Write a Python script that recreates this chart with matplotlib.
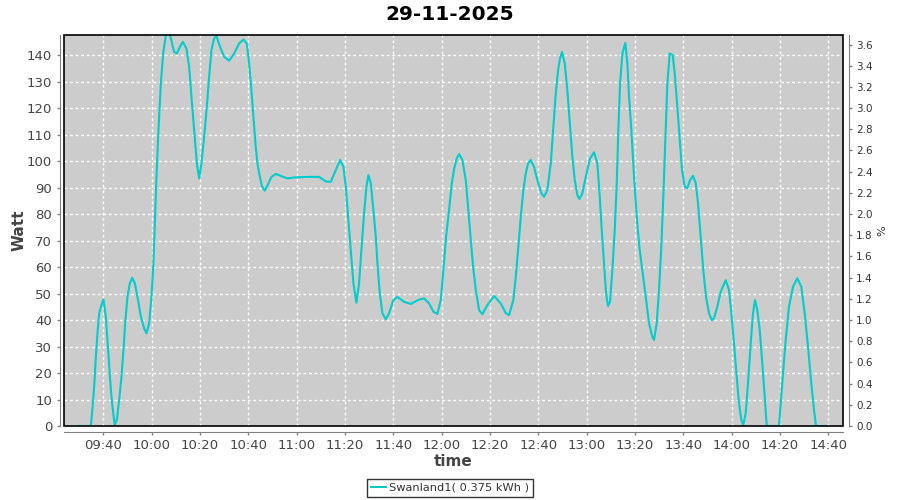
import matplotlib
matplotlib.use("Agg")
import matplotlib.pyplot as plt
import matplotlib.dates as mdates
from matplotlib.patches import Rectangle
import pandas as pd

# waarden
times = [
    "09:29:25", "09:34:47", "09:35:27", "09:36:09", "09:36:51", "09:37:31", "09:38:13", "09:39:10",
    "09:40:00", "09:40:59", "09:41:39", "09:42:21", "09:43:04", "09:43:43", "09:44:38", "09:45:33",
    "09:46:30", "09:47:27", "09:48:17", "09:48:59", "09:49:56", "09:50:55", "09:51:53", "09:53:00",
    "09:54:04", "09:55:29", "09:56:50", "09:57:48", "09:58:55", "09:59:52", "10:00:41", "10:01:16",
    "10:01:56", "10:02:46", "10:03:45", "10:04:42", "10:05:49", "10:06:40", "10:07:36", "10:09:15",
    "10:10:22", "10:11:37", "10:12:51", "10:14:20", "10:15:28", "10:16:25", "10:17:32", "10:18:39",
    "10:19:36", "10:20:33", "10:21:40", "10:22:47", "10:23:44", "10:24:41", "10:25:49", "10:26:46",
    "10:28:17", "10:29:57", "10:32:01", "10:34:05", "10:36:09", "10:37:56", "10:39:20", "10:40:17",
    "10:41:14", "10:42:04", "10:42:54", "10:43:43", "10:44:43", "10:45:40", "10:46:47", "10:48:09",
    "10:49:31", "10:51:20", "10:53:25", "10:56:08", "10:58:55", "11:04:25", "11:09:15", "11:12:09",
    "11:14:06", "11:16:10", "11:17:57", "11:19:19", "11:20:18", "11:21:15", "11:22:22", "11:23:27",
    "11:24:41", "11:25:48", "11:26:45", "11:27:52", "11:28:50", "11:29:39", "11:30:39", "11:31:43",
    "11:32:43", "11:33:23", "11:34:22", "11:35:27", "11:36:51", "11:38:13", "11:39:52", "11:41:39",
    "11:44:26", "11:47:12", "11:50:13", "11:52:42", "11:54:46", "11:56:33", "11:58:12", "11:59:37",
    "12:00:41", "12:01:48", "12:03:03", "12:04:10", "12:05:07", "12:06:14", "12:07:11", "12:08:33",
    "12:09:57", "12:10:54", "12:12:02", "12:12:59", "12:14:06", "12:15:28", "12:16:50", "12:18:54",
    "12:21:40", "12:24:26", "12:26:31", "12:27:53", "12:29:39", "12:30:39", "12:31:43", "12:32:43",
    "12:33:47", "12:34:47", "12:35:44", "12:36:51", "12:38:13", "12:39:35", "12:41:14", "12:42:21",
    "12:43:43", "12:45:08", "12:46:12", "12:47:12", "12:48:09", "12:48:58", "12:49:48", "12:50:55",
    "12:51:59", "12:53:07", "12:54:04", "12:55:04", "12:56:08", "12:56:58", "12:58:12", "12:59:37",
    "13:01:23", "13:03:02", "13:04:25", "13:05:24", "13:06:14", "13:07:11", "13:08:01", "13:08:50",
    "13:09:40", "13:10:37", "13:11:37", "13:12:26", "13:13:06", "13:13:49", "13:14:46", "13:16:00",
    "13:16:50", "13:17:32", "13:18:29", "13:19:36", "13:20:43", "13:21:47", "13:23:02", "13:24:26",
    "13:25:48", "13:27:10", "13:27:52", "13:28:59", "13:29:56", "13:30:53", "13:31:43", "13:32:43",
    "13:33:23", "13:34:22", "13:35:37", "13:36:26", "13:37:31", "13:38:31", "13:39:28", "13:40:35",
    "13:41:39", "13:42:46", "13:44:01", "13:45:08", "13:46:05", "13:47:11", "13:48:16", "13:49:23",
    "13:50:38", "13:51:45", "13:52:42", "13:54:04", "13:55:28", "13:57:32", "13:58:54", "13:59:52",
    "14:00:58", "14:02:05", "14:03:02", "14:04:00", "14:04:49", "14:05:49", "14:06:46", "14:07:53",
    "14:08:50", "14:09:40", "14:10:37", "14:11:37", "14:12:41", "14:13:41", "14:14:31", "14:19:36",
    "14:20:18", "14:21:15", "14:22:22", "14:23:44", "14:25:23", "14:27:10", "14:28:50", "14:30:14",
    "14:31:36", "14:32:58", "14:34:05", "14:34:55", "14:39:35",
]
watt = [
    0, 0, 6.7, 14.8, 26.2, 35, 42.5, 45.7,
    47.8, 41.3, 32.5, 23.7, 13.6, 7.3, 0.5, 2.3,
    9.8, 18.6, 28.7, 38.8, 48.8, 53.9, 56, 53.9,
    48.8, 41.3, 36.9, 35, 38.8, 48.8, 61.4, 76.5,
    94.1, 111.8, 129.4, 140.7, 147.5, 150, 147.5, 141.3,
    140.7, 143.2, 145.1, 142.6, 135.7, 124.4, 112, 99.2,
    93.5, 99.2, 109.3, 120.6, 131.9, 142, 146.4, 147.3,
    143.2, 139.5, 138, 140.7, 144.5, 146, 144.5, 137,
    126.9, 116.8, 106.8, 99.2, 94.1, 90.4, 88.9, 91.4,
    94.1, 95.2, 94.5, 93.5, 93.9, 94.1, 94.1, 92.3,
    92.3, 96.7, 100.5, 97.9, 90.4, 79, 66.5, 53.9,
    46.6, 53.9, 66.5, 80.3, 90.4, 94.8, 91.7, 81.6,
    71.5, 61.4, 50.1, 42.6, 40.3, 42.6, 47.3, 48.8,
    46.9, 46.1, 47.6, 48.2, 46.3, 43.2, 42.3, 47.6,
    58.9, 71.5, 81.6, 91.7, 97, 101.1, 102.7, 100.5,
    92.9, 82.8, 70.2, 60.2, 51.4, 43.8, 42.2, 45.7,
    49.1, 46.3, 42.6, 41.9, 47.6, 56.4, 67.7, 79,
    89.1, 95.4, 99.2, 100.5, 97.9, 92.9, 87.9, 86.6,
    89.1, 99.2, 113, 125.6, 134.4, 138.9, 141.3, 137,
    126.9, 113, 101.7, 92.9, 87.2, 85.7, 87.9, 94.1,
    101.1, 103.4, 99.2, 86.6, 74, 61.4, 50.1, 45.3,
    46.9, 58.9, 74, 91.7, 111.8, 129.4, 140.7, 144.7,
    137, 124.4, 111.8, 94.1, 79, 67.7, 58.9, 48.8,
    38.8, 33.7, 32.5, 38.8, 51.4, 67.7, 86.6, 111.8,
    129.4, 140.7, 140.1, 133.2, 120.6, 108, 96.7, 90.4,
    89.8, 92.9, 94.5, 91.7, 84.1, 71.5, 58.9, 48.8,
    42.6, 40, 40.7, 45.1, 50.7, 55.1, 51.4, 42.6,
    31.2, 18.6, 8.6, 2.3, 0.4, 4.8, 16.1, 31.2,
    42.6, 47.6, 43.8, 36.3, 23.7, 11.1, 0, 0,
    8.6, 19.9, 32.5, 45.1, 52.6, 55.8, 52.6, 42.6,
    29.9, 16.1, 6, 0, 0,
]
series_label = "Swanland1( 0.375 kWh )"
title = "29-11-2025"
day = "2025-11-29"

t = pd.to_datetime([day + " " + s for s in times])

fig = plt.figure(figsize=(9, 5), dpi=100)
ax = fig.add_axes([64 / 900, 74 / 500, 779 / 900, 391 / 500])
ax.set_facecolor("#cccccc")

ax.plot(t, watt, color="#00cccc", lw=1.5, label=series_label, zorder=3)

ax.set_xlim(pd.Timestamp(day + " 09:23:40"), pd.Timestamp(day + " 14:46:05"))
ax.set_ylim(0, 147.7)
ax.set_yticks(range(0, 141, 10))
ax.xaxis.set_major_locator(mdates.MinuteLocator(byminute=[0, 20, 40]))
ax.xaxis.set_major_formatter(mdates.DateFormatter("%H:%M"))

ax.grid(True, color="white", ls=(0, (2, 2)), lw=1)
ax.set_axisbelow(True)

# percentage-as rechts
ax2 = ax.twinx()
ax2.set_ylim(0, 3.69)
ax2.set_yticks([i / 10 for i in range(0, 37, 2)])
ax2.yaxis.set_major_formatter(matplotlib.ticker.FormatStrFormatter("%.1f"))

for a in (ax, ax2):
    for s in a.spines.values():
        s.set_visible(False)
    a.tick_params(colors="#808080", length=2, width=1)

ax.spines["left"].set_visible(True)
ax.spines["bottom"].set_visible(True)
ax.spines["left"].set_position(("outward", 3))
ax.spines["bottom"].set_position(("outward", 4))
ax2.spines["right"].set_visible(True)
ax2.spines["right"].set_position(("outward", 4))
for s in (ax.spines["left"], ax.spines["bottom"], ax2.spines["right"]):
    s.set_color("#808080")

ax.tick_params(axis="both", labelcolor="#444444", labelsize=9.5)
ax2.tick_params(axis="y", labelcolor="#333333", labelsize=7.5)

# zwarte rand om plotgebied
ax2.add_patch(Rectangle((0, 0), 1, 1, transform=ax.transAxes, fill=False,
                        edgecolor="black", lw=1.2, zorder=10, clip_on=False))

ax.set_ylabel("Watt", fontsize=11, color="#444444", fontweight="semibold")
ax.yaxis.set_label_coords(-0.048, 0.5)
ax.set_xlabel("time", fontsize=11, color="#444444", fontweight="semibold", labelpad=1)
ax2.set_ylabel("%", fontsize=8, color="#333333", labelpad=3)

fig.suptitle(title, fontsize=14.5, fontweight="bold", y=0.99)

leg = fig.legend(loc="center", bbox_to_anchor=(450 / 900, 1 - 488 / 500), frameon=True,
                 fontsize=8.2, handlelength=1.3, handletextpad=0.3, borderpad=0.35,
                 fancybox=False, borderaxespad=0)
leg.get_frame().set_edgecolor("black")
leg.get_frame().set_linewidth(1)
for txt in leg.get_texts():
    txt.set_color("#333333")

fig.savefig("out.png", dpi=100)
